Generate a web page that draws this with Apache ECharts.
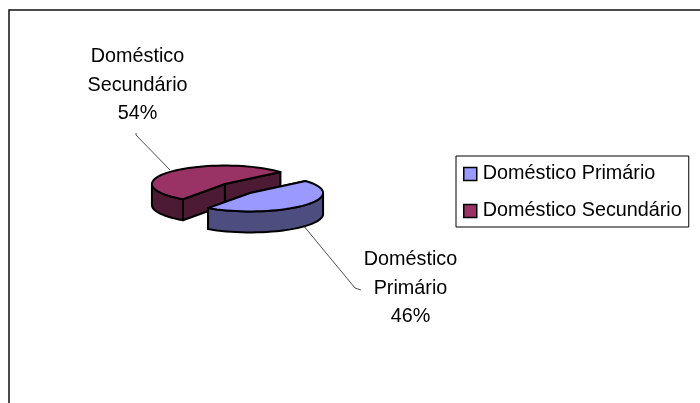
<!DOCTYPE html>
<html>
<head>
<meta charset="utf-8">
<style>
  html, body { margin: 0; padding: 0; background: #fff; }
  #chart { width: 700px; height: 403px; }
</style>
<script src="https://cdn.jsdelivr.net/npm/echarts@6/dist/echarts.min.js"></script>
</head>
<body>
<div id="chart"></div>
<script>
const categories = ["Doméstico Primário", "Doméstico Secundário"];
const values = [46, 54];
const topColors = ["#9999ff", "#993366"];
const sideColors = ["#4d4d80", "#4d1a33"];

// fake 3d pie, echarts has no 3d pie without gl
const rx = 73;
const ry = 18.5;
const depth = 21;
const startDeg = -40.5;
const baseX = 237.5;
const baseY = 188.5;
const total = values.reduce((a, b) => a + b, 0);

// label position and leader line for each slice
const labelBox = [
  { x: 410.5, y: 260, leader: [[303, 225], [355, 288], [361, 290]] },
  { x: 137.5, y: 57, leader: [[170, 170], [136, 135], [136, 133]] },
];

const rad = (d) => (d * Math.PI) / 180;

function sliceAngles(i) {
  let from = startDeg;
  for (let k = 0; k < i; k++) from += (values[k] / total) * 360;
  return [from, from + (values[i] / total) * 360];
}

function rim(cx, cy, from, to, dy) {
  const pts = [];
  const n = Math.max(2, Math.round((to - from) / 4));
  for (let k = 0; k <= n; k++) {
    const t = rad(from + ((to - from) * k) / n);
    pts.push([cx + rx * Math.cos(t), cy + ry * Math.sin(t) + dy]);
  }
  return pts;
}

function poly(points, fill) {
  return {
    type: "polygon",
    shape: { points },
    style: { fill, stroke: "#000", lineWidth: 2, lineJoin: "round" },
  };
}

function renderSlice(i) {
  return function (params, api) {
    const [from, to] = sliceAngles(i);
    const mid = rad((from + to) / 2);
    const cx = baseX + 17 * Math.cos(mid);
    const cy = baseY + 6.6 * Math.sin(mid);
    const children = [];

    const edge = (deg) => {
      const t = rad(deg);
      return [cx + rx * Math.cos(t), cy + ry * Math.sin(t)];
    };
    const wall = (a, b) =>
      poly([a, b, [b[0], b[1] + depth], [a[0], a[1] + depth]], sideColors[i]);

    // cut faces that look at the viewer
    [from, to].forEach((deg) => {
      const p = edge(deg);
      if (p[0] > cx === p[1] < cy) children.push(wall([cx, cy], p));
    });

    // outer wall, front half only
    for (let turn = -360; turn <= 360; turn += 360) {
      const a = Math.max(from, turn);
      const b = Math.min(to, turn + 180);
      if (b > a) {
        const upper = rim(cx, cy, a, b, 0);
        const lower = rim(cx, cy, a, b, depth).reverse();
        children.push(poly(upper.concat(lower), sideColors[i]));
      }
    }

    children.push(poly([[cx, cy]].concat(rim(cx, cy, from, to, 0)), topColors[i]));

    const box = labelBox[i];
    children.push({
      type: "polyline",
      shape: { points: box.leader },
      style: { fill: "none", stroke: "#222", lineWidth: 0.8 },
    });
    const words = categories[i].split(" ");
    const pct = Math.round((api.value(0) / total) * 100) + "%";
    [words[0], words[1], pct].forEach((txt, k) => {
      children.push({
        type: "text",
        style: {
          x: box.x,
          y: box.y + k * 28.5,
          text: txt,
          fill: "#000",
          font: "19.8px 'Liberation Sans', Arial, sans-serif",
          align: "center",
          verticalAlign: "middle",
        },
      });
    });
    return { type: "group", children };
  };
}

const chart = echarts.init(document.getElementById("chart"), null, { renderer: "canvas" });

chart.setOption({
  animation: false,
  backgroundColor: "#fff",
  graphic: [
    {
      // chart frame runs off the right and bottom of the picture
      type: "rect",
      z: -1,
      silent: true,
      shape: { x: 9, y: 10, width: 720, height: 420 },
      style: { fill: "#fff", stroke: "#111", lineWidth: 1.5 },
    },
  ],
  legend: {
    data: categories,
    left: 456,
    top: 156,
    orient: "vertical",
    itemWidth: 13,
    itemHeight: 13,
    itemGap: 17,
    padding: [8, 7, 6, 7],
    borderColor: "#000",
    borderWidth: 1,
    icon: "rect",
    itemStyle: { borderColor: "#000", borderWidth: 1.5 },
    textStyle: { fontFamily: "Liberation Sans", fontSize: 19.8, color: "#000", padding: [0, 0, 0, 1] },
  },
  // secondary first so the primary slice sits on top
  series: [1, 0].map((i) => ({
    type: "custom",
    name: categories[i],
    coordinateSystem: "none",
    silent: true,
    itemStyle: { color: topColors[i] },
    data: [[values[i]]],
    renderItem: renderSlice(i),
  })),
});
</script>
</body>
</html>
